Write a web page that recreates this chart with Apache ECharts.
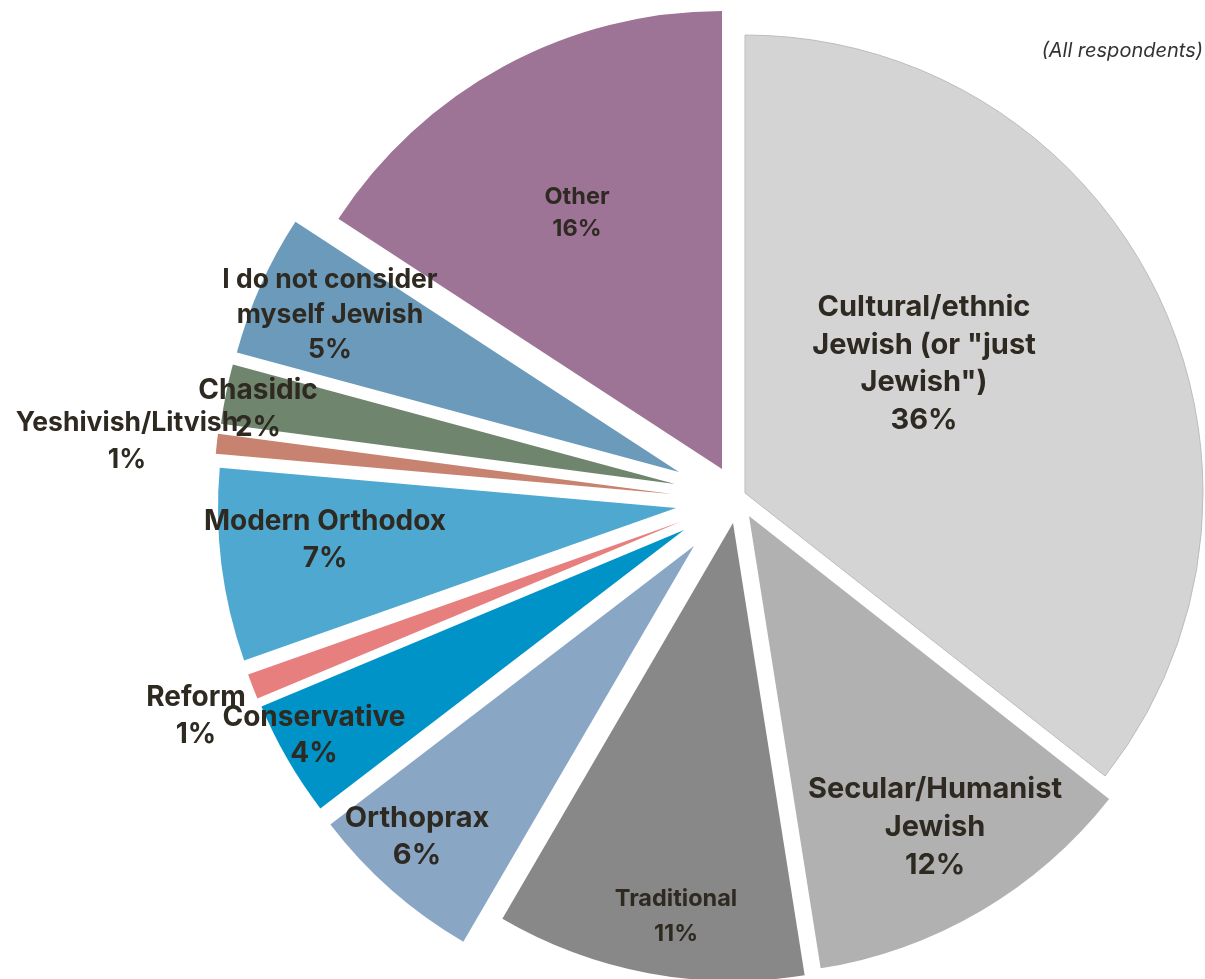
<!DOCTYPE html>
<html>
<head>
<meta charset="utf-8">
<script src="https://cdn.jsdelivr.net/npm/echarts@6/dist/echarts.min.js"></script>
<style>
html,body{margin:0;padding:0;background:#fff;}
#chart{width:1205px;height:979px;}
</style>
</head>
<body>
<div id="chart"></div>
<script>
// ---- data ----
const categories = [
  'Cultural/ethnic Jewish (or "just Jewish")',
  'Secular/Humanist Jewish',
  'Traditional',
  'Orthoprax',
  'Conservative',
  'Reform',
  'Modern Orthodox',
  'Yeshivish/Litvish',
  'Chasidic',
  'I do not consider myself Jewish',
  'Other'
];
const values = [35.6, 11.9, 10.9, 6.2, 4.1, 0.9, 6.8, 0.7, 2.1, 5.0, 15.8];
const labelLines = [
  'Cultural/ethnic\nJewish (or "just\nJewish")',
  'Secular/Humanist\nJewish',
  'Traditional',
  'Orthoprax',
  'Conservative',
  'Reform',
  'Modern Orthodox',
  'Yeshivish/Litvish',
  'Chasidic',
  'I do not consider\nmyself Jewish',
  'Other'
];

// ---- styles / layout ----
const colors = ['#d4d4d4','#b1b1b1','#888888','#89a7c5','#0093c8','#e77f7f',
                '#4fa8cf','#c7836f','#70856d','#6b9abb','#9d7396'];
// apex of each exploded slice
const apex = [[745,493],[749,516],[733,523],[694,546],[684,530],[680,522],
              [676,508],[672,494],[675,484],[679,472],[722,469]];
// label centre positions
const labelPos = [[924,364],[935,827],[676,916],[417,837],[314,736],[196,716],
                  [325,540],[127,442],[258,409],[330,315],[577,213]];
const labelSize = [29,29,23.5,29,28,28,28,26.5,28,26.5,23.5];
const labelLH   = [37.5,38,35,37,36,37,37,37,37,35,32];
const labelOutside = [false,false,false,false,false,true,false,true,false,false,false];
const seriesZ = [2,2,2,2,2,3,2,3,2,2,2];
const R = 458;
const textColor = '#2e2a22';
const font = 'Inter, "Liberation Sans", Arial, sans-serif';

const series = categories.map((cat, i) => ({
  type: 'pie',
  silent: true,
  center: apex[i],
  radius: [0, R],
  startAngle: 90,
  clockwise: true,
  avoidLabelOverlap: false,
  animation: false,
  z: seriesZ[i],
  label: {
    show: true,
    position: labelOutside[i] ? 'outside' : 'inside',
    fontFamily: font,
    fontWeight: 'bold',
    fontSize: labelSize[i],
    lineHeight: labelLH[i],
    color: textColor,
    align: 'center',
    formatter: () => labelLines[i] + '\n' + Math.round(values[i]) + '%'
  },
  labelLine: { show: false },
  labelLayout: { x: labelPos[i][0], y: labelPos[i][1], align: 'center', verticalAlign: 'middle', hideOverlap: false },
  data: categories.map((c, j) => ({
    name: c,
    value: values[j],
    itemStyle: j === i
      ? { color: colors[j], borderColor: j === 0 ? '#bdbdbd' : colors[j], borderWidth: j === 0 ? 1 : 0 }
      : { color: 'rgba(0,0,0,0)', borderWidth: 0 },
    label: { show: j === i },
    labelLine: { show: false }
  }))
}));

const chart = echarts.init(document.getElementById('chart'), null, { renderer: 'canvas' });
chart.setOption({
  backgroundColor: '#ffffff',
  title: {
    text: '(All respondents)',
    right: 2,
    top: 41,
    padding: 0,
    textStyle: { fontFamily: font, fontStyle: 'italic', fontWeight: 'normal', fontSize: 20, color: '#333333' }
  },
  series: series
});
</script>
</body>
</html>
